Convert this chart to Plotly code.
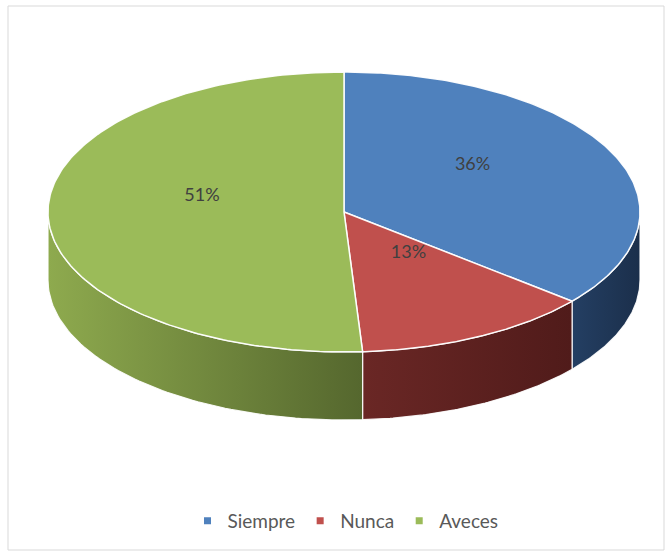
import numpy as np
import plotly.graph_objects as go

# ---- data ----
categories = ["Siempre", "Nunca", "Aveces"]
values = [36, 13, 51]
label_texts = ["36%", "13%", "51%"]

# ---- styles ----
top_colors = ["#4f81bd", "#c0504d", "#9bbb59"]
side_colors = [["#243f63", "#1b2f4b"], ["#6a2725", "#501b1a"], ["#8eaa4e", "#55672e"]]
label_color = "#404040"
legend_color = "#595959"
FONT = "Lato"

W, H = 667, 555
cx, cy, rx, ry, depth = 344, 212, 296, 140, 68


def pts(theta_deg, dy=0.0):
    t = np.radians(np.asarray(theta_deg, dtype=float))
    return cx + rx * np.sin(t), cy - ry * np.cos(t) + dy


total = float(sum(values))
starts, ends = [], []
acc = 0.0
for v in values:
    starts.append(acc / total * 360.0)
    acc += v
    ends.append(acc / total * 360.0)

fig = go.Figure()

# side walls (visible front half: 90..270 degrees clockwise from top)
for i, cat in enumerate(categories):
    lo, hi = max(starts[i], 90.0), min(ends[i], 270.0)
    if lo >= hi:
        continue
    ts = np.linspace(lo, hi, 80)
    xt, yt = pts(ts)
    xb, yb = pts(ts[::-1], depth)
    xs = np.concatenate([xt, xb, xt[:1]])
    ys = np.concatenate([yt, yb, yt[:1]])
    fig.add_trace(go.Scatter(
        x=xs, y=ys, mode="lines", fill="toself",
        fillgradient=dict(type="horizontal",
                          colorscale=[[0, side_colors[i][0]], [1, side_colors[i][1]]]),
        line=dict(color="rgba(255,255,255,0.9)", width=1.2),
        hoverinfo="skip", showlegend=False))

# top faces
for i, cat in enumerate(categories):
    ts = np.linspace(starts[i], ends[i], 200)
    xa, ya = pts(ts)
    xs = np.concatenate([[cx], xa, [cx]])
    ys = np.concatenate([[cy], ya, [cy]])
    fig.add_trace(go.Scatter(
        x=xs, y=ys, mode="lines", fill="toself", fillcolor=top_colors[i],
        line=dict(color="rgba(255,255,255,0.95)", width=1.5),
        name=cat, hoverinfo="name", showlegend=False))

# data labels
lx, ly = [], []
for i in range(len(categories)):
    mid = (starts[i] + ends[i]) / 2.0
    x, y = pts(mid)
    lx.append(cx + (x - cx) * 0.48)
    ly.append(cy + (y - cy) * 0.48 - 18)
fig.add_trace(go.Scatter(
    x=lx, y=ly, mode="text", text=label_texts,
    textfont=dict(family=FONT, size=18, color=label_color),
    hoverinfo="skip", showlegend=False))

# legend entries
for i, cat in enumerate(categories):
    fig.add_trace(go.Scatter(
        x=[None], y=[None], mode="markers", name=cat,
        marker=dict(symbol="square", size=7, color=top_colors[i]),
        showlegend=True))

fig.add_shape(type="rect", x0=8, x1=664, y0=6, y1=550,
              line=dict(color="#d9d9d9", width=1), layer="below")

fig.update_layout(
    width=W, height=H, autosize=False,
    margin=dict(l=0, r=0, t=0, b=0),
    paper_bgcolor="white", plot_bgcolor="white",
    xaxis=dict(range=[0, W], visible=False, fixedrange=True),
    yaxis=dict(range=[H, 0], visible=False, fixedrange=True),
    showlegend=True,
    legend=dict(orientation="h", x=0.518, xanchor="center",
                y=1 - 521 / H, yanchor="middle",
                font=dict(family=FONT, size=19, color=legend_color),
                itemwidth=30, bgcolor="rgba(0,0,0,0)"),
)

fig.write_html("out.html", config={"displayModeBar": False},
               post_script="document.body.style.margin='0';document.body.style.overflow='hidden';")
